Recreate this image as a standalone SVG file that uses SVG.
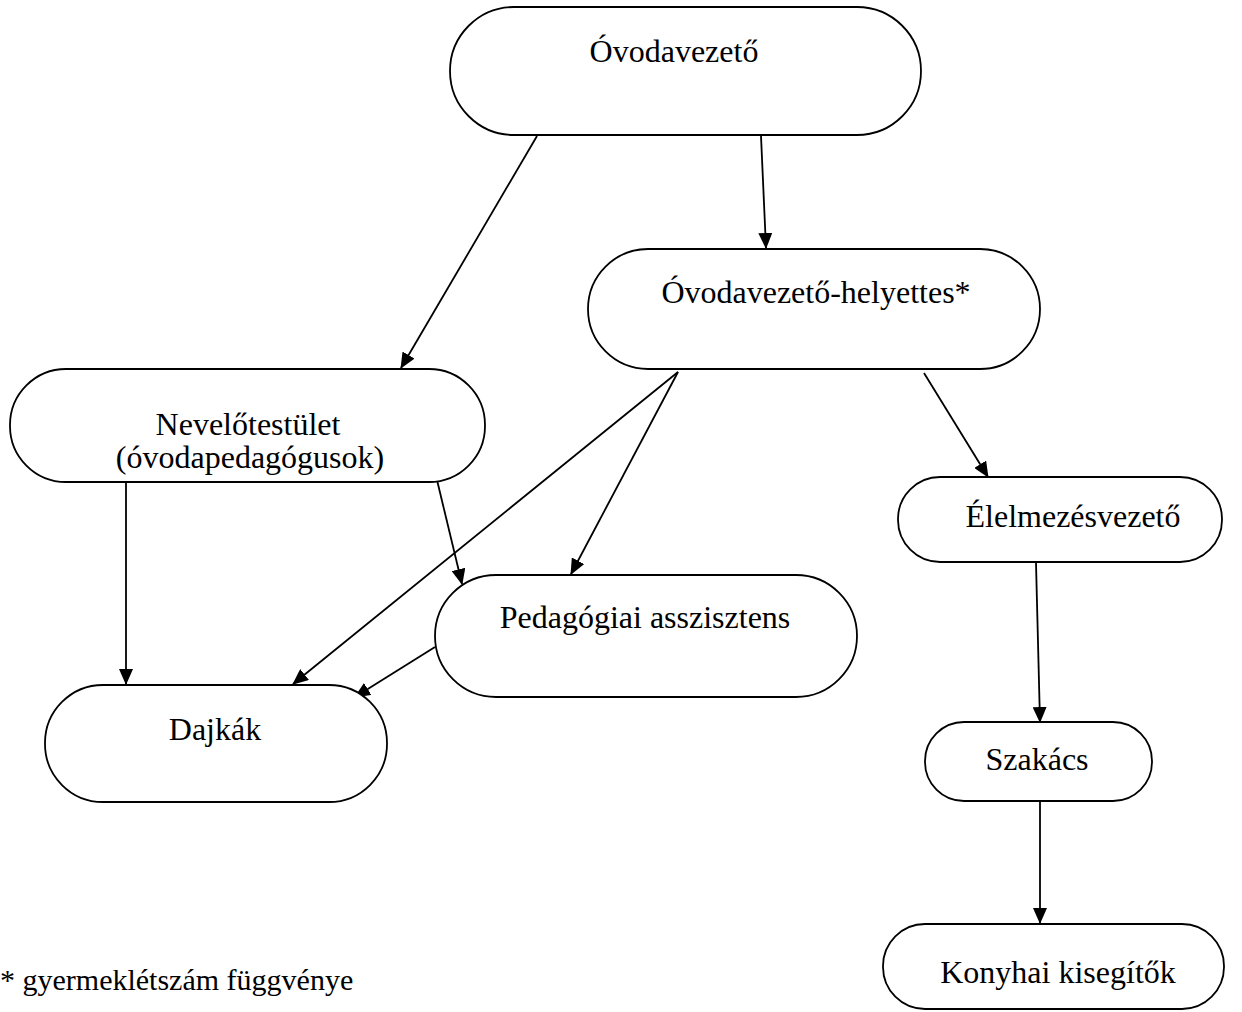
<svg xmlns="http://www.w3.org/2000/svg" width="1242" height="1012" viewBox="0 0 1242 1012">
<style>
.node rect{fill:#fff;stroke:#000;stroke-width:1.8}
.node text,.note{font-family:"Liberation Serif","Times New Roman",serif;font-size:32px;fill:#000;text-anchor:middle}
.note{text-anchor:start;font-size:30px}
#connectors line{stroke:#000;stroke-width:1.8;marker-end:url(#arr)}
</style>
<defs>
<marker id="arr" viewBox="0 0 16 14" refX="15" refY="7" markerWidth="16" markerHeight="14" markerUnits="userSpaceOnUse" orient="auto">
<path d="M0,0 L16,7 L0,14 z" fill="#000"/>
</marker>
</defs>
<rect width="1242" height="1012" fill="#fff"/>
<g id="connectors">
<line x1="537" y1="136" x2="401" y2="368"/>
<line x1="761" y1="136" x2="766" y2="248"/>
<line x1="678" y1="372" x2="293" y2="684"/>
<line x1="678" y1="372" x2="571" y2="574"/>
<line x1="924" y1="373" x2="988" y2="477"/>
<line x1="126" y1="483" x2="126" y2="684"/>
<line x1="437" y1="480" x2="462" y2="584"/>
<line x1="435" y1="647" x2="355" y2="697"/>
<line x1="1036" y1="563" x2="1040" y2="722"/>
<line x1="1040" y1="802" x2="1040" y2="923"/>
</g>
<g id="n-ovodavezeto" class="node"><rect x="450" y="7" width="471" height="128" rx="64" ry="64"/><text x="674" y="62">Óvodavezető</text></g>
<g id="n-helyettes" class="node"><rect x="588" y="249" width="452" height="120" rx="60" ry="60"/><text x="816" y="303">Óvodavezető-helyettes*</text></g>
<g id="n-nevelotestulet" class="node"><rect x="10" y="369" width="475" height="113" rx="56" ry="56"/><text x="248" y="435">Nevelőtestület</text><text x="250" y="468">(óvodapedagógusok)</text></g>
<g id="n-elelmezes" class="node"><rect x="898" y="477" width="324" height="85" rx="42" ry="42"/><text x="1073" y="527">Élelmezésvezető</text></g>
<g id="n-pedasszisztens" class="node"><rect x="435" y="575" width="422" height="122" rx="61" ry="61"/><text x="645" y="628">Pedagógiai asszisztens</text></g>
<g id="n-dajkak" class="node"><rect x="45" y="685" width="342" height="117" rx="58" ry="58"/><text x="215" y="740">Dajkák</text></g>
<g id="n-szakacs" class="node"><rect x="925" y="722" width="227" height="79" rx="39" ry="39"/><text x="1037" y="770">Szakács</text></g>
<g id="n-konyhai" class="node"><rect x="883" y="924" width="341" height="85" rx="42" ry="42"/><text x="1058" y="983">Konyhai kisegítők</text></g>
<text class="note" x="0" y="990">* gyermeklétszám függvénye</text>
</svg>
